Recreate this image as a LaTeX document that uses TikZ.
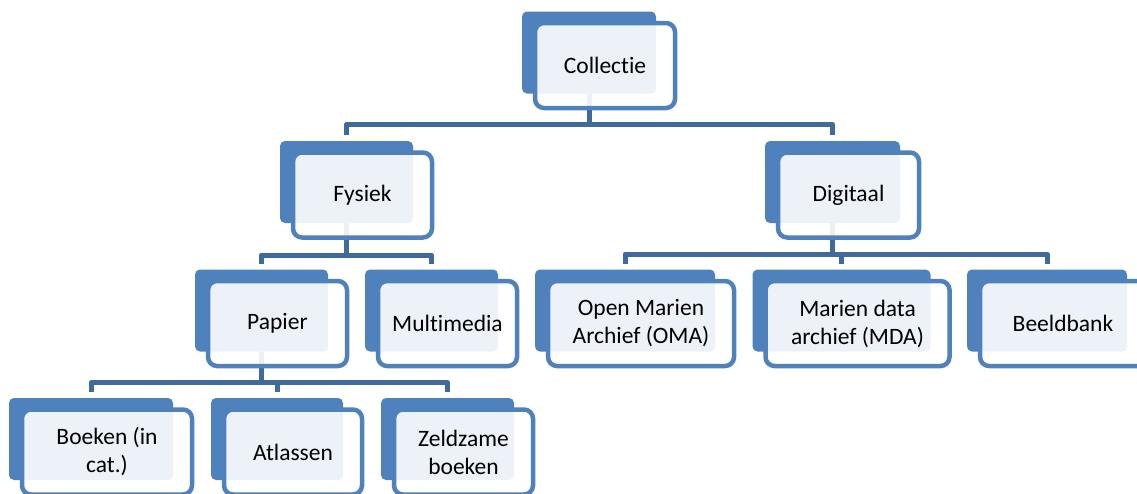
\documentclass[tikz,border=0pt]{standalone}
\usepackage{fontspec}
\setmainfont{Carlito}[Ligatures=NoCommon]
\usetikzlibrary{positioning}
\definecolor{boxblue}{RGB}{79,129,189}
\definecolor{linkblue}{RGB}{64,105,156}

\begin{document}
\begin{tikzpicture}[x=1pt,y=-1pt,
    backbox/.style={rectangle,rounded corners=5pt,fill=boxblue,minimum height=82pt,inner sep=0pt,outer sep=0pt},
    textbox/.style={rectangle,rounded corners=9pt,draw=boxblue,line width=4.5pt,fill=white,fill opacity=0.9,text opacity=1,minimum height=85pt,inner sep=0pt,align=center,font=\fontsize{23.5}{28}\selectfont},
    link/.style={draw=linkblue,line width=5pt,line join=round,shorten >=6pt}]
     \useasboundingbox (0,0) rectangle (1137,493);
     \clip (0,0) rectangle (1137,493);
     % back boxes
     \node[backbox,minimum width=134pt] (collectie) at (589,52.5) {};
     \node[backbox,minimum width=133pt] (fysiek) at (346.5,182) {};
     \node[backbox,minimum width=135pt] (digitaal) at (832.5,182) {};
     \node[backbox,minimum width=133pt] (papier) at (261.5,310.5) {};
     \node[backbox,minimum width=133pt,right of=papier,node distance=170pt] (multimedia) {};
     \node[backbox,minimum width=180pt] (oma) at (625,310.5) {};
     \node[backbox,minimum width=178pt,right of=oma,node distance=216.5pt] (mda) {};
     \node[backbox,minimum width=160pt,right of=mda,node distance=205.5pt] (beeldbank) {};
     \node[backbox,minimum width=164pt] (boeken) at (91,439) {};
     \node[backbox,minimum width=132pt,right of=boeken,node distance=186pt] (atlassen) {};
     \node[backbox,minimum width=133pt,right of=atlassen,node distance=170.5pt] (zeldzame) {};
     % connectors
     \draw[link] (collectie.south) -- ++(0,31) -| (fysiek.north);
     \draw[link] (collectie.south) -- ++(0,31) -| (digitaal.north);
     \draw[link] (fysiek.south) -- ++(0,32) -| (papier.north);
     \draw[link] (fysiek.south) -- ++(0,32) -| (multimedia.north);
     \draw[link] (digitaal.south) -- ++(0,31) -| (oma.north);
     \draw[link] (digitaal.south) -- ++(0,31) -| (mda.north);
     \draw[link] (digitaal.south) -- ++(0,31) -| (beeldbank.north);
     \draw[link] (papier.south) -- ++(0,31) -| (boeken.north);
     \draw[link] (papier.south) -- ++(0,31) -| (atlassen.north);
     \draw[link] (papier.south) -- ++(0,31) -| (zeldzame.north);
     % front boxes with the texts
     \node[textbox,minimum width=140pt] (collectietxt) at ([shift={(16pt,-13pt)}]collectie) {Collectie};
     \node[textbox,minimum width=139pt] (fysiektxt) at ([shift={(16pt,-13pt)}]fysiek) {Fysiek};
     \node[textbox,minimum width=141pt] (digitaaltxt) at ([shift={(16pt,-13pt)}]digitaal) {Digitaal};
     \node[textbox,minimum width=139pt] (papiertxt) at ([shift={(16pt,-13pt)}]papier) {Papier};
     \node[textbox,minimum width=139pt] (multimediatxt) at ([shift={(16pt,-13pt)}]multimedia) {Multimedia};
     \node[textbox,minimum width=186pt] (omatxt) at ([shift={(16pt,-13pt)}]oma) {Open Marien\\Archief (OMA)};
     \node[textbox,minimum width=184pt] (mdatxt) at ([shift={(16pt,-13pt)}]mda) {Marien data\\archief (MDA)};
     \node[textbox,minimum width=166pt] (beeldbanktxt) at ([shift={(16pt,-13pt)}]beeldbank) {Beeldbank};
     \node[textbox,minimum width=170pt] (boekentxt) at ([shift={(16pt,-13pt)}]boeken) {Boeken (in\\cat.)};
     \node[textbox,minimum width=138pt] (atlassentxt) at ([shift={(16pt,-13pt)}]atlassen) {Atlassen};
     \node[textbox,minimum width=139pt] (zeldzametxt) at ([shift={(16pt,-13pt)}]zeldzame) {Zeldzame\\boeken};
\end{tikzpicture}
\end{document}
